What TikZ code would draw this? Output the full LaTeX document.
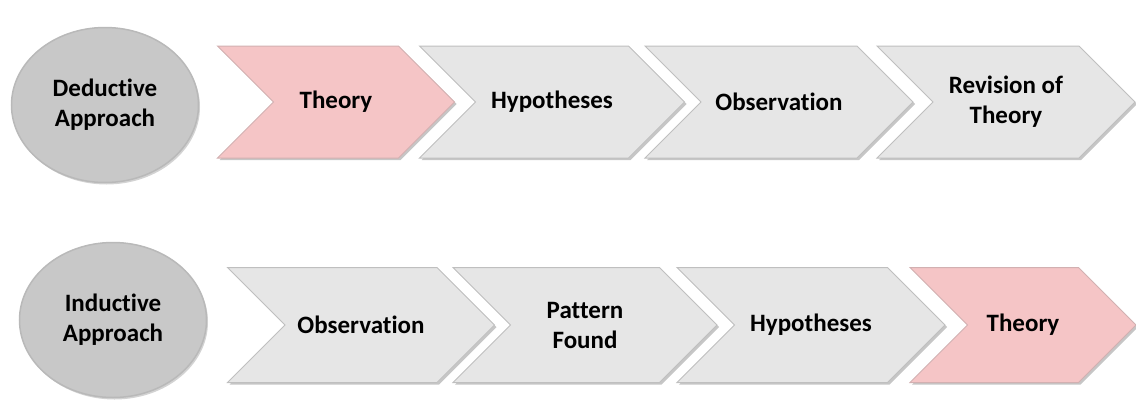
\documentclass[tikz,border=0pt]{standalone}
\usepackage{fontspec}
\setmainfont{Carlito}[Ligatures={NoCommon}]
\usetikzlibrary{shapes.symbols, shapes.geometric, shadows, positioning}
\definecolor{chevGray}{HTML}{E6E6E6}
\definecolor{chevPink}{HTML}{F5C5C6}
\definecolor{ballGray}{HTML}{C8C8C8}
\tikzset{
    approach/.style={ellipse, draw=gray!55, line width=1.5pt, fill=ballGray, inner sep=0pt,
        minimum width=187pt, minimum height=155pt, align=center,
        font=\bfseries\fontsize{25}{30}\selectfont,
        drop shadow={shadow xshift=1.5pt, shadow yshift=-2pt, opacity=.35}},
    chev/.style={signal, signal from=west, signal to=east, signal pointer angle=90,
        draw=gray!50, line width=1pt, fill=chevGray, inner sep=0pt, align=center,
        font=\bfseries\fontsize{25}{30}\selectfont,
        drop shadow={shadow xshift=2pt, shadow yshift=-2pt, opacity=.45}},
    chevHot/.style={chev, fill=chevPink, draw=chevPink!70!gray},
}
% chevron: name, centre x, centre y, width, height, style, text
\newcommand{\drawChev}[7]{
    \node[#6, minimum width=#4pt, minimum height=#5pt] (#1) at (#2,#3) {#7};
}
\begin{document}
\begin{tikzpicture}[x=1pt, y=-1pt]
    \useasboundingbox (0,0) rectangle (1136,402);

    % Deductive row
    \node[approach] (ded) at (105,105) {Deductive\\Approach};
    \drawChev{dTheory}{336}{102}{237}{112}{chevHot}{Theory}
    \drawChev{dHyp}{552}{102}{265}{112}{chev}{Hypotheses}
    \drawChev{dObs}{779}{102}{268}{112}{chev}{Observation}
    \drawChev{dRev}{1006}{102}{258}{112}{chev}{Revision of\\Theory}

    % Inductive row
    \node[approach] (ind) at (113,320) {Inductive\\Approach};
    \drawChev{iObs}{361}{325}{267}{115}{chev}{Observation}
    \drawChev{iPat}{585}{325}{264}{115}{chev}{Pattern\\Found}
    \drawChev{iHyp}{811}{325}{268}{115}{chev}{Hypotheses}
    \drawChev{iTheory}{1023}{325}{226}{115}{chevHot}{Theory}

\end{tikzpicture}
\end{document}
